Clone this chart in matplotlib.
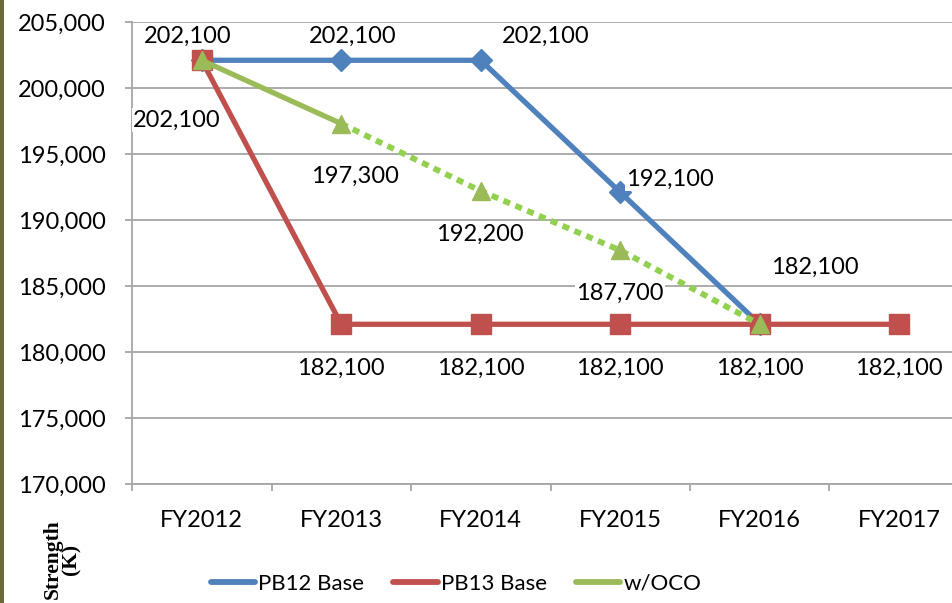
import matplotlib
matplotlib.use("Agg")
import matplotlib.pyplot as plt
from matplotlib.patches import Rectangle
from matplotlib.lines import Line2D
from matplotlib.ticker import FuncFormatter, MultipleLocator, FixedLocator

# ---- data ----
years = ["FY2012", "FY2013", "FY2014", "FY2015", "FY2016", "FY2017"]
pb12 = [202100, 202100, 202100, 192100, 182100]
pb13 = [202100, 182100, 182100, 182100, 182100, 182100]
oco = [202100, 197300, 192200, 187700, 182100]

# label text per point, offsets in points (style only)
pb12_labels = ["202,100", "202,100", "202,100", "192,100", "182,100"]
pb12_offsets = [(-10, 17), (8, 17), (47, 17), (36, 9), (40, 41)]
pb13_labels = ["", "182,100", "182,100", "182,100", "182,100", "182,100"]
pb13_offsets = [(0, 0), (0, -32), (0, -32), (0, -32), (0, -32), (0, -32)]
oco_labels = ["202,100", "197,300", "192,200", "187,700", ""]
oco_offsets = [(-18, -43), (10, -38), (-1, -31), (0, -31), (0, 0)]

FONT = "Lato"
FS = 17
plt.rcParams["font.family"] = [FONT, "DejaVu Sans"]

BLUE = "#4F81BD"
RED = "#C0504D"
GREEN = "#9BBB59"
GREEN_DOT = "#92D050"
GRID = "#A6A6A6"

fig = plt.figure(figsize=(9.52, 6.03), dpi=100)
fig.patch.set_facecolor("white")
ax = fig.add_axes([132 / 952, 119 / 603, 837 / 952, 462 / 603])

x12 = list(range(len(pb12)))
x13 = list(range(len(pb13)))
xo = list(range(len(oco)))

ax.plot(x12, pb12, color=BLUE, lw=3.8, marker="D", ms=11, mfc=BLUE, mec=BLUE, zorder=3,
        solid_capstyle="round")
ax.plot(x13, pb13, color=RED, lw=3.8, marker="s", ms=15, mfc=RED, mec=RED, zorder=4,
        solid_capstyle="round")
ax.plot(xo[:2], oco[:2], color=GREEN, lw=3.8, zorder=5, solid_capstyle="round")
ax.plot(xo[1:], oco[1:], color=GREEN_DOT, lw=4.2, linestyle=(0, (1.2, 1.0)), zorder=5,
        dash_capstyle="butt")
ax.plot(xo, oco, linestyle="none", marker="^", ms=13, mfc=GREEN, mec=GREEN, zorder=6)

def labels(xs, ys, texts, offs):
    for x, y, t, o in zip(xs, ys, texts, offs):
        if not t:
            continue
        ax.annotate(t, (x, y), xytext=o, textcoords="offset points",
                    ha="center", va="center", fontsize=FS, color="black", zorder=7,
                    bbox=dict(boxstyle="square,pad=0.05", fc="white", ec="none"))

labels(x12, pb12, pb12_labels, pb12_offsets)
labels(x13, pb13, pb13_labels, pb13_offsets)
labels(xo, oco, oco_labels, oco_offsets)

ax.set_xlim(-0.5, 5.5)
ax.set_ylim(170000, 205000)
ax.yaxis.set_major_locator(MultipleLocator(5000))
ax.yaxis.set_major_formatter(FuncFormatter(lambda v, p: f"{int(v):,}"))
ax.set_xticks(range(len(years)))
ax.set_xticklabels(years)
ax.xaxis.set_minor_locator(FixedLocator([i - 0.5 for i in range(len(years) + 1)]))

ax.grid(axis="y", color=GRID, lw=1.3, zorder=0)
ax.set_axisbelow(True)
for s in ["top", "right"]:
    ax.spines[s].set_visible(False)
for s in ["left", "bottom"]:
    ax.spines[s].set_color(GRID)
    ax.spines[s].set_linewidth(1.3)

ax.tick_params(axis="y", which="major", length=5, width=1.3, color=GRID, pad=14,
               labelsize=FS, labelcolor="black")
ax.tick_params(axis="x", which="major", length=0, pad=19, labelsize=FS, labelcolor="black")
ax.tick_params(axis="x", which="minor", length=5, width=1.3, color=GRID)

# legend
handles = [Line2D([], [], color=c, lw=4.2, solid_capstyle="round") for c in (BLUE, RED, GREEN)]
fig.legend(handles, ["PB12 Base", "PB13 Base", "w/OCO"], loc="center",
           bbox_to_anchor=(456 / 952, 19 / 603), ncol=3, frameon=False, fontsize=16,
           handlelength=2.0, handletextpad=0.15, columnspacing=1.3)

# axis title (rotated, partially cropped in the original)
fig.text(62 / 952, 44 / 603, "Strength\n(K)", rotation=90, ha="center", va="center",
         fontsize=15.5, fontweight="bold", family="Liberation Serif", linespacing=0.95,
         multialignment="center")

# left decorative strip
fig.patches.append(Rectangle((0, 0), 4 / 952, 1, transform=fig.transFigure,
                             fc="#6B6A3A", ec="none"))

fig.savefig("out.png", dpi=100)
